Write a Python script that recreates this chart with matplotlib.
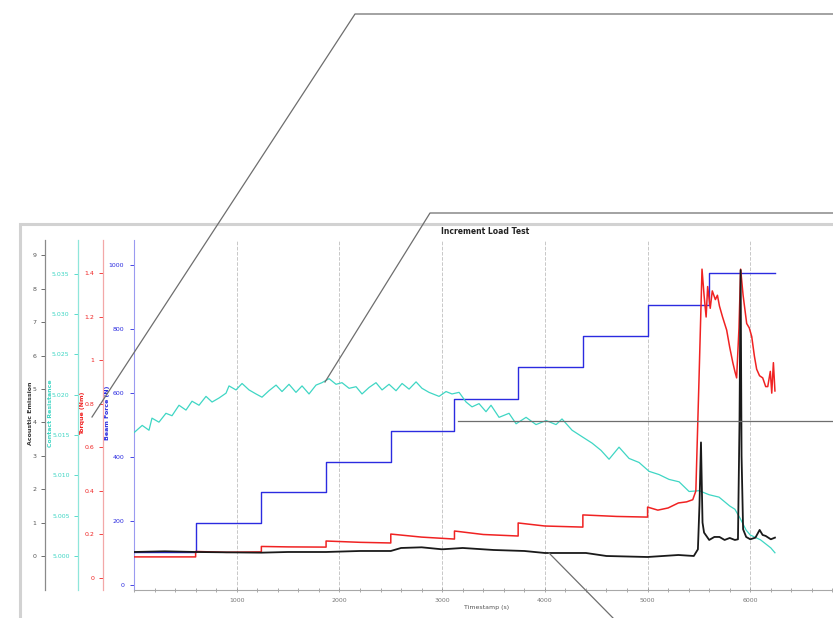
import matplotlib
matplotlib.use("Agg")
import matplotlib.pyplot as plt
from matplotlib.lines import Line2D
from matplotlib.patches import Rectangle
from matplotlib.ticker import MultipleLocator, FixedLocator

# ---- data ----
# beam force (N), step load
force_t = [0, 600, 1240, 1870, 2500, 3120, 3740, 4370, 5000, 5600, 6240]
force_v = [103, 195, 290, 385, 482, 580, 680, 777, 876, 975, 975]

# torque (Nm)
torque_t = [0, 600, 600, 900, 1240, 1240, 1500, 1870, 1870, 2200, 2500,
            2500, 2800, 3120, 3120, 3400, 3740, 3740, 4000, 4370, 4370,
            4700, 5000, 5000, 5100, 5200, 5300, 5380, 5440, 5470, 5500,
            5530, 5550, 5570, 5585, 5610, 5630, 5660, 5680, 5700, 5730,
            5770, 5800, 5830, 5850, 5867, 5890, 5906, 5930, 5965, 5990,
            6014, 6040, 6062, 6090, 6121, 6150, 6170, 6195, 6209, 6225, 6240]
torque_v = [0.097, 0.097, 0.122, 0.118, 0.120, 0.145, 0.143, 0.142, 0.170,
            0.164, 0.161, 0.202, 0.188, 0.179, 0.216, 0.200, 0.193, 0.253,
            0.239, 0.234, 0.290, 0.283, 0.280, 0.326, 0.312, 0.322, 0.345,
            0.350, 0.360, 0.400, 0.900, 1.420, 1.300, 1.200, 1.340, 1.240,
            1.320, 1.280, 1.300, 1.250, 1.200, 1.140, 1.060, 0.990, 0.950,
            0.920, 1.150, 1.420, 1.300, 1.170, 1.150, 1.110, 1.020, 0.960,
            0.930, 0.920, 0.880, 0.880, 0.950, 0.850, 0.990, 0.860]

# acoustic emission
ae_t = [0, 300, 600, 900, 1240, 1500, 1870, 2200, 2500, 2600, 2800, 3000,
        3200, 3500, 3800, 4000, 4400, 4600, 5000, 5300, 5450, 5490, 5505,
        5520, 5535, 5550, 5600, 5650, 5700, 5750, 5800, 5850, 5880, 5895,
        5906, 5915, 5930, 5960, 6000, 6050, 6091, 6120, 6150, 6200, 6240]
ae_v = [0.12, 0.14, 0.12, 0.11, 0.10, 0.12, 0.12, 0.15, 0.15, 0.24, 0.26,
        0.20, 0.24, 0.18, 0.15, 0.09, 0.09, 0.00, -0.03, 0.03, 0.00, 0.20,
        1.50, 3.40, 1.00, 0.70, 0.48, 0.57, 0.57, 0.48, 0.54, 0.48, 0.50,
        4.00, 8.56, 3.00, 0.80, 0.57, 0.50, 0.55, 0.78, 0.63, 0.60, 0.50, 0.55]

# contact resistance
cr_t = [0, 80, 146, 175, 243, 311, 370, 438, 506, 565,
        633, 701, 760, 828, 896, 925, 993, 1052, 1120, 1188,
        1246, 1314, 1383, 1441, 1509, 1577, 1636, 1704, 1772, 1830,
        1899, 1967, 2025, 2094, 2162, 2220, 2288, 2356, 2415, 2483,
        2551, 2610, 2678, 2746, 2804, 2872, 2970, 3038, 3096, 3165,
        3233, 3291, 3359, 3427, 3476, 3554, 3651, 3720, 3817, 3914,
        4012, 4109, 4167, 4265, 4362, 4460, 4547, 4625, 4722, 4820,
        4917, 5015, 5112, 5209, 5307, 5404, 5502, 5599, 5696, 5800,
        5850, 5900, 5960, 6000, 6100, 6200, 6240]
cr_v = [5.0153, 5.0162, 5.0156, 5.0171, 5.0166, 5.0177, 5.0174, 5.0187, 5.0181, 5.0192,
        5.0187, 5.0198, 5.0191, 5.0196, 5.0202, 5.0211, 5.0206, 5.0214, 5.0206, 5.0201,
        5.0197, 5.0205, 5.0212, 5.0204, 5.0213, 5.0203, 5.0211, 5.0201, 5.0212, 5.0215,
        5.0220, 5.0213, 5.0215, 5.0208, 5.0210, 5.0201, 5.0209, 5.0215, 5.0206, 5.0213,
        5.0205, 5.0214, 5.0207, 5.0216, 5.0208, 5.0203, 5.0198, 5.0204, 5.0201, 5.0203,
        5.0191, 5.0185, 5.0189, 5.0179, 5.0187, 5.0172, 5.0177, 5.0164, 5.0172, 5.0163,
        5.0168, 5.0163, 5.0170, 5.0156, 5.0148, 5.0140, 5.0131, 5.0120, 5.0135, 5.0121,
        5.0116, 5.0105, 5.0101, 5.0095, 5.0092, 5.0080, 5.0081, 5.0076, 5.0073, 5.0062,
        5.0058, 5.0047, 5.0032, 5.0026, 5.0020, 5.0010, 5.0004]

x_ticks = [1000, 2000, 3000, 4000, 5000, 6000]
force_ticks = [0, 200, 400, 600, 800, 1000]
torque_ticks = [0, 0.2, 0.4, 0.6, 0.8, 1.0, 1.2, 1.4]
torque_labels = ["0", "0.2", "0.4", "0.6", "0.8", "1", "1.2", "1.4"]
ae_ticks = [0, 1, 2, 3, 4, 5, 6, 7, 8, 9]
cr_ticks = [5.000, 5.005, 5.010, 5.015, 5.020, 5.025, 5.030, 5.035]

# ---- figure ----
W, H = 833, 618
fig = plt.figure(figsize=(W / 100, H / 100), dpi=100)
fig.patch.set_facecolor("white")


def fx(px):
    return px / W


def fy(py):
    return 1 - py / H


# plot area: x = 134..853 px, y = 240..590 px (runs off the right edge)
ax = fig.add_axes([fx(134), fy(590), fx(853 - 134), (590 - 240) / H])
ax.set_xlim(0, 7000)

blue = "#2b2be0"
red = "#f02222"
cyan = "#3fd6c4"
black = "#1a1a1a"
fs = 4.5

# blue axis (main)
ax.step(force_t, force_v, where="post", color=blue, lw=1.0, zorder=3)
ax.set_ylim(-15.6, 1078)
ax.yaxis.set_major_locator(FixedLocator(force_ticks))
ax.tick_params(axis="y", colors=blue, labelsize=fs, length=3, width=0.6, pad=4)
ax.spines["left"].set_color("#9a9af0")
ax.spines["top"].set_visible(False)
ax.spines["right"].set_visible(False)
ax.spines["bottom"].set_color("#a8a8a8")
ax.spines["bottom"].set_linewidth(0.8)
ax.xaxis.set_major_locator(FixedLocator(x_ticks))
ax.xaxis.set_minor_locator(MultipleLocator(200))
ax.tick_params(axis="x", which="both", colors="#888888", labelcolor="#777777",
               labelsize=fs, direction="inout", length=3, width=0.5, pad=4)
ax.grid(axis="x", which="major", color="#c8c8c8", linestyle="--", linewidth=0.7)
ax.set_axisbelow(True)


def side_axis(offset_px, spine_color):
    a = ax.twinx()
    a.spines["left"].set_visible(True)
    a.spines["left"].set_position(("axes", (offset_px - 134) / (853 - 134)))
    a.spines["left"].set_color(spine_color)
    a.spines["left"].set_linewidth(0.9)
    for s in ["right", "top", "bottom"]:
        a.spines[s].set_visible(False)
    a.yaxis.set_ticks_position("left")
    a.yaxis.set_label_position("left")
    return a


# contact resistance
ax_cr = side_axis(78, "#8fe6da")
ax_cr.plot(cr_t, cr_v, color=cyan, lw=0.9, zorder=3)
ax_cr.set_ylim(4.99578, 5.0392)
ax_cr.yaxis.set_major_locator(FixedLocator(cr_ticks))
ax_cr.set_yticklabels([f"{v:.3f}" for v in cr_ticks])
ax_cr.tick_params(axis="y", colors=cyan, labelsize=fs, length=3, width=0.6, pad=3)

# torque
ax_tq = side_axis(103, "#f3a8a8")
ax_tq.plot(torque_t, torque_v, color=red, lw=1.1, zorder=3)
ax_tq.set_ylim(-0.0552, 1.554)
ax_tq.yaxis.set_major_locator(FixedLocator(torque_ticks))
ax_tq.set_yticklabels(torque_labels)
ax_tq.tick_params(axis="y", colors=red, labelsize=fs, length=3, width=0.6, pad=3)

# acoustic emission
ax_ae = side_axis(45, "#8a8a8a")
ax_ae.plot(ae_t, ae_v, color=black, lw=1.3, zorder=3)
ax_ae.set_ylim(-1.018, 9.46)
ax_ae.yaxis.set_major_locator(FixedLocator(ae_ticks))
ax_ae.tick_params(axis="y", colors="#555555", labelsize=fs, length=3, width=0.6, pad=3)

# axis titles
fig.text(fx(31), fy(413), "Acoustic Emission", rotation=90, ha="center", va="center",
         fontsize=fs, fontweight="bold", color="#333333")
fig.text(fx(50), fy(413), "Contact Resistance", rotation=90, ha="center", va="center",
         fontsize=fs, fontweight="bold", color=cyan)
fig.text(fx(83), fy(413), "Torque (Nm)", rotation=90, ha="center", va="center",
         fontsize=fs, fontweight="bold", color=red)
fig.text(fx(108), fy(413), "Beam Force (N)", rotation=90, ha="center", va="center",
         fontsize=fs, fontweight="bold", color=blue)

fig.text(fx(485), fy(231), "Increment Load Test", ha="center", va="center",
         fontsize=5.5, fontweight="bold", color="#222222")
fig.text(fx(487), fy(608), "Timestamp (s)", ha="center", va="center",
         fontsize=fs, color="#555555")

# frame around the chart
fig.add_artist(Rectangle((fx(20), fy(700)), fx(900), (700 - 224) / H,
                         transform=fig.transFigure, fill=False,
                         edgecolor="#d2d2d2", linewidth=2.2, clip_on=False))

# callout leader lines
callouts = [
    [(92, 417), (355, 14), (833, 14)],
    [(325, 382), (430, 213), (833, 213)],
    [(458, 421), (833, 421)],
    [(549, 553), (615, 620)],
]
for pts in callouts:
    xs = [fx(p[0]) for p in pts]
    ys = [fy(p[1]) for p in pts]
    fig.add_artist(Line2D(xs, ys, transform=fig.transFigure, color="#6e6e6e",
                          linewidth=0.9, zorder=10))

fig.savefig("out.png", dpi=100)
